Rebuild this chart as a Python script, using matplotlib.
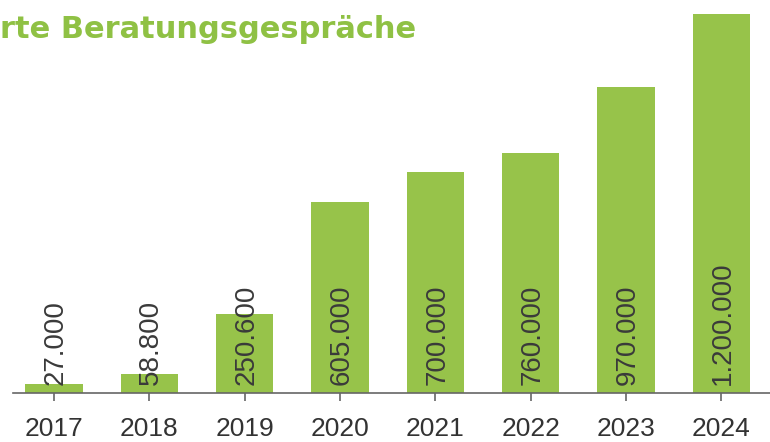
from matplotlib import pyplot as plt
import numpy as np

years = ["2017", "2018", "2019", "2020", "2021", "2022", "2023", "2024"]
values = [27000, 58800, 250600, 605000, 700000, 760000, 970000, 1200000]
labels = ["27.000", "58.800", "250.600", "605.000", "700.000", "760.000", "970.000", "1.200.000"]

green = "#97c34a"

fig = plt.figure(figsize=(7.7, 4.42), dpi=100)
ax = fig.add_axes([13/770, 49/442, 757/770, 379/442])

x = np.arange(len(years))
ax.bar(x, values, width=0.6, color=green, clip_on=False)

for xi, lab in zip(x, labels):
    ax.text(xi + 0.02, 25000, lab, rotation=90, ha="center", va="bottom",
            fontsize=20, family="Liberation Sans", color="#3a3a3a")

ax.set_xlim(-0.43, 7.51)
ax.set_ylim(0, 1200000)
ax.set_xticks(x)
ax.set_xticklabels(years, fontsize=19, family="Liberation Sans", color="#333333")
ax.tick_params(axis="x", length=6, width=1.2, color="#666666", pad=11)
ax.set_yticks([])
for s in ["left", "right", "top"]:
    ax.spines[s].set_visible(False)
ax.spines["bottom"].set_color("#666666")
ax.spines["bottom"].set_linewidth(1.2)

fig.text(0.0, 1 - 38/442, "rte Beratungsgespräche", fontsize=22, fontweight="bold",
         family="DejaVu Sans", color="#8fc144", ha="left", va="baseline")

fig.savefig("out.png", dpi=100)
